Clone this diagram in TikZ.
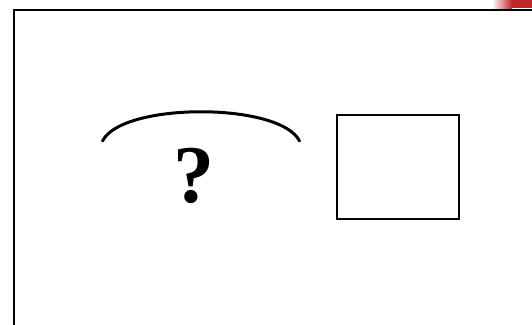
\documentclass[tikz,border=0pt]{standalone}
\usepackage{fontspec}
\setmainfont{Liberation Serif}
\definecolor{redbar}{RGB}{192,40,42}
\begin{document}
\begin{tikzpicture}[x=1pt,y=-1pt,
  frameline/.style={line width=2.5pt},
  boxline/.style={line width=2pt},
  arcline/.style={line width=3pt, line cap=round}]
\useasboundingbox (0,0) rectangle (532,324);
\clip (0,0) rectangle (532,324);
% red corner bar
\shade[left color=white,right color=redbar] (492,0) rectangle (512,8);
\fill[redbar] (511.5,0) rectangle (532,8);
% outer frame
\draw[frameline] (14,10) rectangle (545,340);
% arc
\coordinate (al) at (102.5,141);
\coordinate (ar) at (299.5,141);
\draw[arcline] (al) .. controls (122,102) and (280,102) .. (ar);
% question mark
\node[font=\fontsize{82}{82}\selectfont\bfseries, inner sep=0pt] (q) at (194,176) {?};
% box
\node[draw, boxline, minimum width=122pt, minimum height=104pt, inner sep=0pt] (box) at (397.5,167) {};
\end{tikzpicture}
\end{document}
